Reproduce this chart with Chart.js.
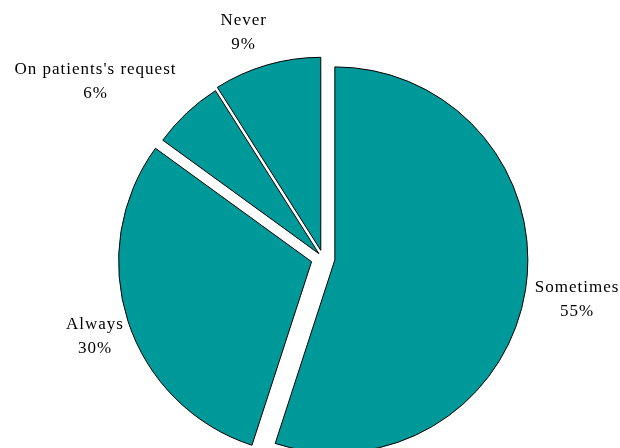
<!DOCTYPE html>
<html>
<head>
<meta charset="utf-8">
<script src="https://cdn.jsdelivr.net/npm/chart.js@4"></script>
<style>
  html, body { margin: 0; padding: 0; background: #ffffff; }
  #wrap { width: 620px; height: 448px; }
</style>
</head>
<body>
<div id="wrap"><canvas id="pie"></canvas></div>
<script>
const categories = ['Sometimes', 'Always', "On patients's request", 'Never'];
const shares = [55, 30, 6, 9];
const percentLabels = ['55%', '30%', '6%', '9%'];

const fillColor = '#009999';
const labelFont = '17px "Liberation Serif", "Times New Roman", serif';
// how far each slice is pulled out of the pie, in px
const explode = [12, 12, 6, 8];
// small per-label nudges (x, y) after the generic outward placement
const nudges = [[0, 4], [4, 5], [-29, -7], [-14, 0]];

function midDir(arc) {
  const p = arc.getProps(['startAngle', 'endAngle'], true);
  const mid = (p.startAngle + p.endAngle) / 2;
  return [Math.cos(mid), Math.sin(mid)];
}

// draw the slices pulled out by a plain translation (keeps every radius equal)
const explodedSlices = {
  id: 'explodedSlices',
  beforeDatasetDraw(chart, args) {
    const ctx = chart.ctx;
    args.meta.data.forEach((arc, i) => {
      const [dx, dy] = midDir(arc);
      ctx.save();
      ctx.translate(dx * explode[i], dy * explode[i]);
      arc.draw(ctx);
      ctx.restore();
    });
    return false;
  }
};

const outsideLabels = {
  id: 'outsideLabels',
  afterDatasetsDraw(chart) {
    const ctx = chart.ctx;
    const meta = chart.getDatasetMeta(0);
    ctx.save();
    ctx.font = labelFont;
    ctx.letterSpacing = '1px';
    ctx.fillStyle = '#000000';
    ctx.textAlign = 'center';
    ctx.textBaseline = 'middle';
    const lineH = 24;
    meta.data.forEach((arc, i) => {
      const p = arc.getProps(['x', 'y', 'outerRadius'], true);
      const [dx, dy] = midDir(arc);
      const w = Math.max(ctx.measureText(categories[i]).width, ctx.measureText(percentLabels[i]).width);
      const r = p.outerRadius + explode[i] + 10;
      const cx = p.x + dx * r + dx * w / 2 + nudges[i][0];
      const cy = p.y + dy * r + dy * lineH + nudges[i][1];
      ctx.fillText(categories[i], cx, cy - lineH / 2);
      ctx.fillText(percentLabels[i], cx, cy + lineH / 2);
    });
    ctx.restore();
  }
};

new Chart(document.getElementById('pie'), {
  type: 'pie',
  data: {
    labels: categories,
    datasets: [{
      data: shares,
      backgroundColor: fillColor,
      borderColor: '#000000',
      borderWidth: 1,
      hoverOffset: 0,
      clip: false
    }]
  },
  options: {
    responsive: true,
    maintainAspectRatio: false,
    animation: false,
    radius: 193,
    layout: { padding: { left: 26, right: 0, top: 68, bottom: 0 } },
    plugins: {
      legend: { display: false },
      tooltip: { enabled: false }
    }
  },
  plugins: [explodedSlices, outsideLabels]
});
</script>
</body>
</html>
